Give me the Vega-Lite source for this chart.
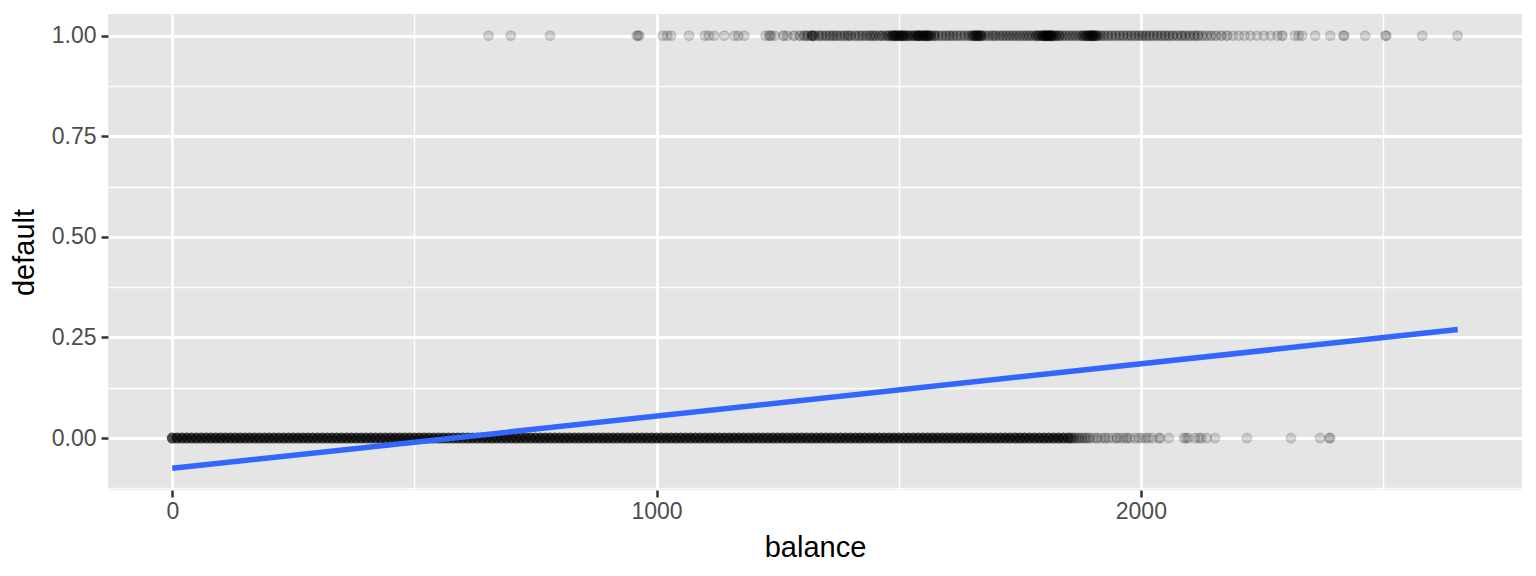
{
  "$schema": "https://vega.github.io/schema/vega-lite/v6.json",
  "width": 1414,
  "height": 476,
  "autosize": {"type": "none"},
  "padding": {"left": 108, "top": 14, "right": 14, "bottom": 86},
  "background": "white",
  "config": {"view": {"fill": "#E5E5E5", "stroke": null}, "font": "Liberation Sans"},
  "datasets": {
    "fit": [
      {"balance": 0, "fit": -0.0752},
      {"balance": 2654.3, "fit": 0.2696}
    ],
    "customers": [
      {"balance":0,"default":0,"n":499},{"balance":10,"default":0,"n":18},{"balance":20,"default":0,"n":19},{"balance":30,"default":0,"n":19},{"balance":40,"default":0,"n":20},{"balance":50,"default":0,"n":21},{"balance":60,"default":0,"n":22},{"balance":70,"default":0,"n":23},{"balance":80,"default":0,"n":24},{"balance":90,"default":0,"n":25},
      {"balance":100,"default":0,"n":26},{"balance":110,"default":0,"n":27},{"balance":120,"default":0,"n":28},{"balance":130,"default":0,"n":28},{"balance":140,"default":0,"n":29},{"balance":150,"default":0,"n":30},{"balance":160,"default":0,"n":31},{"balance":170,"default":0,"n":32},{"balance":180,"default":0,"n":33},{"balance":190,"default":0,"n":34},
      {"balance":200,"default":0,"n":35},{"balance":210,"default":0,"n":36},{"balance":220,"default":0,"n":37},{"balance":230,"default":0,"n":38},{"balance":240,"default":0,"n":39},{"balance":250,"default":0,"n":40},{"balance":260,"default":0,"n":42},{"balance":270,"default":0,"n":43},{"balance":280,"default":0,"n":44},{"balance":290,"default":0,"n":45},
      {"balance":300,"default":0,"n":46},{"balance":310,"default":0,"n":47},{"balance":320,"default":0,"n":48},{"balance":330,"default":0,"n":49},{"balance":340,"default":0,"n":50},{"balance":350,"default":0,"n":51},{"balance":360,"default":0,"n":53},{"balance":370,"default":0,"n":54},{"balance":380,"default":0,"n":55},{"balance":390,"default":0,"n":56},
      {"balance":400,"default":0,"n":57},{"balance":410,"default":0,"n":58},{"balance":420,"default":0,"n":59},{"balance":430,"default":0,"n":60},{"balance":440,"default":0,"n":61},{"balance":450,"default":0,"n":62},{"balance":460,"default":0,"n":63},{"balance":470,"default":0,"n":65},{"balance":480,"default":0,"n":66},{"balance":490,"default":0,"n":67},
      {"balance":500,"default":0,"n":68},{"balance":510,"default":0,"n":69},{"balance":520,"default":0,"n":70},{"balance":530,"default":0,"n":71},{"balance":540,"default":0,"n":72},{"balance":550,"default":0,"n":73},{"balance":560,"default":0,"n":74},{"balance":570,"default":0,"n":75},{"balance":580,"default":0,"n":76},{"balance":590,"default":0,"n":76},
      {"balance":600,"default":0,"n":77},{"balance":610,"default":0,"n":78},{"balance":620,"default":0,"n":78},{"balance":630,"default":0,"n":79},{"balance":640,"default":0,"n":79},{"balance":650,"default":0,"n":80},{"balance":660,"default":0,"n":80},{"balance":670,"default":0,"n":81},{"balance":680,"default":0,"n":81},{"balance":690,"default":0,"n":82},
      {"balance":700,"default":0,"n":82},{"balance":710,"default":0,"n":83},{"balance":720,"default":0,"n":83},{"balance":730,"default":0,"n":83},{"balance":740,"default":0,"n":84},{"balance":750,"default":0,"n":84},{"balance":760,"default":0,"n":84},{"balance":770,"default":0,"n":85},{"balance":780,"default":0,"n":85},{"balance":790,"default":0,"n":85},
      {"balance":800,"default":0,"n":85},{"balance":810,"default":0,"n":85},{"balance":820,"default":0,"n":85},{"balance":830,"default":0,"n":85},{"balance":840,"default":0,"n":84},{"balance":850,"default":0,"n":84},{"balance":860,"default":0,"n":84},{"balance":870,"default":0,"n":84},{"balance":880,"default":0,"n":83},{"balance":890,"default":0,"n":83},
      {"balance":900,"default":0,"n":83},{"balance":910,"default":0,"n":82},{"balance":920,"default":0,"n":82},{"balance":930,"default":0,"n":81},{"balance":940,"default":0,"n":81},{"balance":950,"default":0,"n":80},{"balance":960,"default":0,"n":79},{"balance":970,"default":0,"n":79},{"balance":980,"default":0,"n":78},{"balance":990,"default":0,"n":77},
      {"balance":1000,"default":0,"n":77},{"balance":1010,"default":0,"n":76},{"balance":1020,"default":0,"n":75},{"balance":1030,"default":0,"n":74},{"balance":1040,"default":0,"n":73},{"balance":1050,"default":0,"n":72},{"balance":1060,"default":0,"n":71},{"balance":1070,"default":0,"n":70},{"balance":1080,"default":0,"n":69},{"balance":1090,"default":0,"n":68},
      {"balance":1100,"default":0,"n":68},{"balance":1110,"default":0,"n":67},{"balance":1120,"default":0,"n":66},{"balance":1130,"default":0,"n":64},{"balance":1140,"default":0,"n":63},{"balance":1150,"default":0,"n":62},{"balance":1160,"default":0,"n":61},{"balance":1170,"default":0,"n":60},{"balance":1180,"default":0,"n":59},{"balance":1190,"default":0,"n":58},
      {"balance":1200,"default":0,"n":58},{"balance":1210,"default":0,"n":56},{"balance":1220,"default":0,"n":55},{"balance":1230,"default":0,"n":54},{"balance":1240,"default":0,"n":53},{"balance":1250,"default":0,"n":52},{"balance":1260,"default":0,"n":51},{"balance":1270,"default":0,"n":50},{"balance":1280,"default":0,"n":49},{"balance":1290,"default":0,"n":48},
      {"balance":1300,"default":0,"n":47},{"balance":1310,"default":0,"n":46},{"balance":1320,"default":0,"n":45},{"balance":1330,"default":0,"n":44},{"balance":1340,"default":0,"n":43},{"balance":1350,"default":0,"n":41},{"balance":1360,"default":0,"n":40},{"balance":1370,"default":0,"n":39},{"balance":1380,"default":0,"n":38},{"balance":1390,"default":0,"n":37},
      {"balance":1400,"default":0,"n":36},{"balance":1410,"default":0,"n":35},{"balance":1420,"default":0,"n":34},{"balance":1430,"default":0,"n":33},{"balance":1440,"default":0,"n":32},{"balance":1450,"default":0,"n":31},{"balance":1460,"default":0,"n":30},{"balance":1470,"default":0,"n":29},{"balance":1480,"default":0,"n":28},{"balance":1490,"default":0,"n":27},
      {"balance":1500,"default":0,"n":26},{"balance":1510,"default":0,"n":25},{"balance":1520,"default":0,"n":24},{"balance":1530,"default":0,"n":23},{"balance":1540,"default":0,"n":23},{"balance":1550,"default":0,"n":22},{"balance":1560,"default":0,"n":21},{"balance":1570,"default":0,"n":20},{"balance":1580,"default":0,"n":19},{"balance":1590,"default":0,"n":19},
      {"balance":1600,"default":0,"n":18},{"balance":1610,"default":0,"n":17},{"balance":1620,"default":0,"n":17},{"balance":1630,"default":0,"n":16},{"balance":1640,"default":0,"n":15},{"balance":1650,"default":0,"n":15},{"balance":1660,"default":0,"n":14},{"balance":1670,"default":0,"n":14},{"balance":1680,"default":0,"n":13},{"balance":1690,"default":0,"n":12},
      {"balance":1700,"default":0,"n":12},{"balance":1710,"default":0,"n":11},{"balance":1720,"default":0,"n":11},{"balance":1730,"default":0,"n":10},{"balance":1740,"default":0,"n":10},{"balance":1750,"default":0,"n":10},{"balance":1760,"default":0,"n":9},{"balance":1770,"default":0,"n":9},{"balance":1780,"default":0,"n":9},{"balance":1790,"default":0,"n":8},
      {"balance":1800,"default":0,"n":8},{"balance":1810,"default":0,"n":8},{"balance":1820,"default":0,"n":8},{"balance":1830,"default":0,"n":8},{"balance":1840,"default":0,"n":8},{"balance":1850,"default":0,"n":7},
      {"balance":1856,"default":0,"n":4},{"balance":1861,"default":0,"n":3},{"balance":1866,"default":0,"n":2},{"balance":1872,"default":0,"n":3},{"balance":1878,"default":0,"n":2},{"balance":1884,"default":0,"n":2},{"balance":1889,"default":0,"n":2},{"balance":1895,"default":0,"n":2},{"balance":1903,"default":0,"n":1},{"balance":1910,"default":0,"n":2},
      {"balance":1918,"default":0,"n":1},{"balance":1926,"default":0,"n":2},{"balance":1933,"default":0,"n":1},{"balance":1941,"default":0,"n":1},{"balance":1950,"default":0,"n":2},{"balance":1957,"default":0,"n":1},{"balance":1964,"default":0,"n":1},{"balance":1971,"default":0,"n":2},{"balance":1978,"default":0,"n":1},{"balance":1988,"default":0,"n":1},
      {"balance":1996,"default":0,"n":1},{"balance":2002,"default":0,"n":1},{"balance":2010,"default":0,"n":1},{"balance":2016,"default":0,"n":1},{"balance":2024,"default":0,"n":1},{"balance":2037,"default":0,"n":1},{"balance":2040,"default":0,"n":1},{"balance":2058,"default":0,"n":1},{"balance":2089,"default":0,"n":1},{"balance":2093,"default":0,"n":1},
      {"balance":2098,"default":0,"n":1},{"balance":2112,"default":0,"n":1},{"balance":2120,"default":0,"n":1},{"balance":2125,"default":0,"n":1},{"balance":2136,"default":0,"n":1},{"balance":2153,"default":0,"n":1},{"balance":2219,"default":0,"n":1},{"balance":2310,"default":0,"n":1},{"balance":2370,"default":0,"n":1},{"balance":2389,"default":0,"n":1},{"balance":2391,"default":0,"n":1},
      {"balance":653,"default":1,"n":1},{"balance":699,"default":1,"n":1},{"balance":780,"default":1,"n":1},{"balance":959,"default":1,"n":1},{"balance":962,"default":1,"n":1},{"balance":964,"default":1,"n":1},{"balance":1013,"default":1,"n":1},{"balance":1022,"default":1,"n":1},{"balance":1030,"default":1,"n":1},{"balance":1067,"default":1,"n":1},
      {"balance":1100,"default":1,"n":1},{"balance":1108,"default":1,"n":1},{"balance":1119,"default":1,"n":1},{"balance":1140,"default":1,"n":1},{"balance":1161,"default":1,"n":1},{"balance":1169,"default":1,"n":1},{"balance":1181,"default":1,"n":1},{"balance":1225,"default":1,"n":1},{"balance":1233,"default":1,"n":2},{"balance":1237,"default":1,"n":1},
      {"balance":1244,"default":1,"n":1},{"balance":1262,"default":1,"n":2},{"balance":1270,"default":1,"n":1},{"balance":1284,"default":1,"n":2},{"balance":1296,"default":1,"n":2},{"balance":1305,"default":1,"n":3},{"balance":1312,"default":1,"n":3},{"balance":1320,"default":1,"n":3},{"balance":1322,"default":1,"n":3},{"balance":1326,"default":1,"n":3},
      {"balance":1335,"default":1,"n":3},{"balance":1342,"default":1,"n":3},{"balance":1350,"default":1,"n":3},{"balance":1358,"default":1,"n":3},{"balance":1365,"default":1,"n":3},{"balance":1372,"default":1,"n":3},{"balance":1380,"default":1,"n":3},{"balance":1388,"default":1,"n":3},{"balance":1395,"default":1,"n":3},{"balance":1401,"default":1,"n":3},
      {"balance":1410,"default":1,"n":3},{"balance":1418,"default":1,"n":3},{"balance":1425,"default":1,"n":3},{"balance":1433,"default":1,"n":3},{"balance":1440,"default":1,"n":3},{"balance":1446,"default":1,"n":3},{"balance":1452,"default":1,"n":3},{"balance":1460,"default":1,"n":3},{"balance":1466,"default":1,"n":3},{"balance":1473,"default":1,"n":3},
      {"balance":1480,"default":1,"n":5},{"balance":1487,"default":1,"n":5},{"balance":1491,"default":1,"n":5},{"balance":1495,"default":1,"n":5},{"balance":1500,"default":1,"n":5},{"balance":1504,"default":1,"n":5},{"balance":1508,"default":1,"n":5},{"balance":1512,"default":1,"n":5},{"balance":1518,"default":1,"n":5},{"balance":1525,"default":1,"n":5},
      {"balance":1532,"default":1,"n":5},{"balance":1538,"default":1,"n":5},{"balance":1541,"default":1,"n":5},{"balance":1545,"default":1,"n":5},{"balance":1550,"default":1,"n":5},{"balance":1554,"default":1,"n":5},{"balance":1558,"default":1,"n":5},{"balance":1561,"default":1,"n":5},{"balance":1566,"default":1,"n":5},{"balance":1574,"default":1,"n":5},
      {"balance":1582,"default":1,"n":3},{"balance":1590,"default":1,"n":3},{"balance":1598,"default":1,"n":3},{"balance":1605,"default":1,"n":3},{"balance":1612,"default":1,"n":3},{"balance":1620,"default":1,"n":3},{"balance":1628,"default":1,"n":3},{"balance":1636,"default":1,"n":3},{"balance":1644,"default":1,"n":3},{"balance":1650,"default":1,"n":3},
      {"balance":1655,"default":1,"n":5},{"balance":1659,"default":1,"n":5},{"balance":1663,"default":1,"n":5},{"balance":1667,"default":1,"n":5},{"balance":1671,"default":1,"n":5},{"balance":1678,"default":1,"n":3},{"balance":1686,"default":1,"n":3},{"balance":1694,"default":1,"n":3},{"balance":1700,"default":1,"n":3},{"balance":1708,"default":1,"n":3},
      {"balance":1715,"default":1,"n":3},{"balance":1722,"default":1,"n":3},{"balance":1729,"default":1,"n":3},{"balance":1736,"default":1,"n":3},{"balance":1743,"default":1,"n":3},{"balance":1750,"default":1,"n":3},{"balance":1757,"default":1,"n":3},{"balance":1764,"default":1,"n":3},{"balance":1770,"default":1,"n":3},{"balance":1777,"default":1,"n":3},
      {"balance":1784,"default":1,"n":5},{"balance":1790,"default":1,"n":5},{"balance":1796,"default":1,"n":5},{"balance":1800,"default":1,"n":5},{"balance":1803,"default":1,"n":5},{"balance":1806,"default":1,"n":5},{"balance":1809,"default":1,"n":5},{"balance":1812,"default":1,"n":5},{"balance":1815,"default":1,"n":5},{"balance":1818,"default":1,"n":5},
      {"balance":1824,"default":1,"n":5},{"balance":1831,"default":1,"n":5},{"balance":1838,"default":1,"n":3},{"balance":1845,"default":1,"n":3},{"balance":1852,"default":1,"n":3},{"balance":1859,"default":1,"n":3},{"balance":1866,"default":1,"n":3},{"balance":1873,"default":1,"n":3},{"balance":1880,"default":1,"n":5},{"balance":1886,"default":1,"n":5},
      {"balance":1891,"default":1,"n":5},{"balance":1895,"default":1,"n":5},{"balance":1899,"default":1,"n":5},{"balance":1902,"default":1,"n":5},{"balance":1905,"default":1,"n":5},{"balance":1910,"default":1,"n":5},{"balance":1917,"default":1,"n":3},{"balance":1924,"default":1,"n":3},{"balance":1932,"default":1,"n":3},{"balance":1940,"default":1,"n":3},
      {"balance":1948,"default":1,"n":3},{"balance":1956,"default":1,"n":3},{"balance":1964,"default":1,"n":3},{"balance":1972,"default":1,"n":3},{"balance":1980,"default":1,"n":3},{"balance":1988,"default":1,"n":3},{"balance":1996,"default":1,"n":3},{"balance":2003,"default":1,"n":3},{"balance":2010,"default":1,"n":3},{"balance":2018,"default":1,"n":3},
      {"balance":2026,"default":1,"n":3},{"balance":2034,"default":1,"n":3},{"balance":2042,"default":1,"n":3},{"balance":2050,"default":1,"n":3},{"balance":2058,"default":1,"n":3},{"balance":2066,"default":1,"n":3},{"balance":2075,"default":1,"n":3},{"balance":2084,"default":1,"n":3},{"balance":2092,"default":1,"n":3},{"balance":2101,"default":1,"n":3},
      {"balance":2110,"default":1,"n":3},{"balance":2118,"default":1,"n":3},{"balance":2127,"default":1,"n":2},{"balance":2136,"default":1,"n":2},{"balance":2145,"default":1,"n":2},{"balance":2155,"default":1,"n":2},{"balance":2166,"default":1,"n":2},{"balance":2178,"default":1,"n":2},{"balance":2190,"default":1,"n":1},{"balance":2202,"default":1,"n":1},
      {"balance":2214,"default":1,"n":1},{"balance":2226,"default":1,"n":1},{"balance":2240,"default":1,"n":1},{"balance":2254,"default":1,"n":1},{"balance":2268,"default":1,"n":1},{"balance":2282,"default":1,"n":1},{"balance":2292,"default":1,"n":2},{"balance":2318,"default":1,"n":1},{"balance":2326,"default":1,"n":1},{"balance":2333,"default":1,"n":1},
      {"balance":2360,"default":1,"n":1},{"balance":2391,"default":1,"n":1},{"balance":2418,"default":1,"n":1},{"balance":2420,"default":1,"n":1},{"balance":2463,"default":1,"n":1},{"balance":2505,"default":1,"n":1},{"balance":2507,"default":1,"n":1},{"balance":2581,"default":1,"n":1},{"balance":2654,"default":1,"n":1}
    ]
  },
  "layer": [
    {
      "data": {"name": "customers"},
      "mark": {"type": "circle", "fill": "black", "stroke": "black", "strokeWidth": 1.5, "size": 90},
      "encoding": {
        "x": {
          "field": "balance", "type": "quantitative",
          "scale": {"domain": [-132.7, 2787], "nice": false, "zero": false},
          "axis": {
            "title": "balance",
            "values": [0, 500, 1000, 1500, 2000, 2500],
            "format": "d",
            "labelExpr": "datum.value % 1000 === 0 ? datum.label : ''",
            "grid": true, "gridColor": "white",
            "gridWidth": {"condition": {"test": "datum.value % 1000 === 0", "value": 2.8}, "value": 1.4},
            "tickOpacity": {"condition": {"test": "datum.value % 1000 === 0", "value": 1}, "value": 0},
            "tickColor": "#333333", "tickSize": 7, "tickWidth": 2.5,
            "domain": false,
            "labelColor": "#4D4D4D", "labelFontSize": 23, "labelPadding": 3,
            "titleColor": "black", "titleFontSize": 29, "titleFontWeight": "normal", "titlePadding": 10
          }
        },
        "y": {
          "field": "default", "type": "quantitative",
          "scale": {"domain": [-0.129, 1.0538], "nice": false, "zero": false},
          "axis": {
            "title": "default",
            "values": [-0.125, 0, 0.125, 0.25, 0.375, 0.5, 0.625, 0.75, 0.875, 1],
            "format": ".2f",
            "labelExpr": "abs(datum.value * 4 - round(datum.value * 4)) < 0.001 ? datum.label : ''",
            "grid": true, "gridColor": "white",
            "gridWidth": {"condition": {"test": "abs(datum.value * 4 - round(datum.value * 4)) < 0.001", "value": 2.8}, "value": 1.4},
            "tickOpacity": {"condition": {"test": "abs(datum.value * 4 - round(datum.value * 4)) < 0.001", "value": 1}, "value": 0},
            "tickColor": "#333333", "tickSize": 7, "tickWidth": 2.5,
            "domain": false,
            "labelColor": "#4D4D4D", "labelFontSize": 23, "labelPadding": 5,
            "titleColor": "black", "titleFontSize": 29, "titleFontWeight": "normal", "titlePadding": 12
          }
        },
        "fillOpacity": {
          "field": "n", "type": "quantitative",
          "scale": {"domain": [1, 8], "range": [0.2, 1], "clamp": true},
          "legend": null
        },
        "strokeOpacity": {
          "field": "n", "type": "quantitative",
          "scale": {"domain": [1, 8], "range": [0.2, 1], "clamp": true},
          "legend": null
        }
      }
    },
    {
      "data": {"name": "fit"},
      "mark": {"type": "line", "color": "#3366FF", "strokeWidth": 5.5},
      "encoding": {
        "x": {"field": "balance", "type": "quantitative"},
        "y": {"field": "fit", "type": "quantitative"}
      }
    }
  ]
}
